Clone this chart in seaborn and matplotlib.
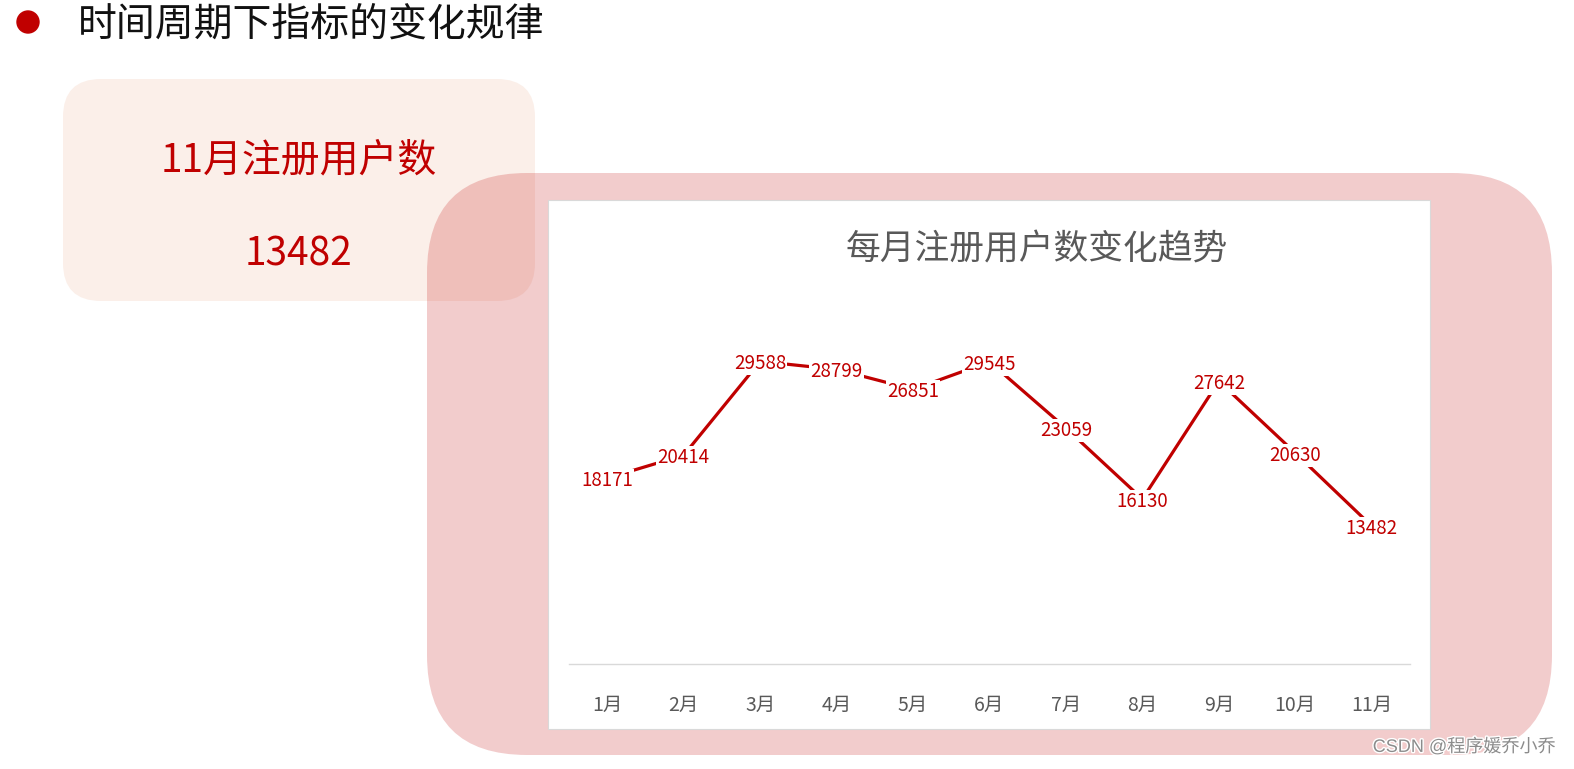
import matplotlib
matplotlib.use("Agg")
import matplotlib.pyplot as plt
import matplotlib.patheffects as pe
from matplotlib.patches import FancyBboxPatch, Circle
import seaborn as sns
import pandas as pd

# ---- data ----
months = ["1月", "2月", "3月", "4月", "5月", "6月", "7月", "8月", "9月", "10月", "11月"]
users = [18171, 20414, 29588, 28799, 26851, 29545, 23059, 16130, 27642, 20630, 13482]
page_title = "时间周期下指标的变化规律"
card_title = "11月注册用户数"
card_value = "13482"
chart_title = "每月注册用户数变化趋势"
watermark = "CSDN @程序媛乔小乔"

sns.set_theme(style="white")
plt.rcParams["font.family"] = ["Noto Sans CJK SC", "DejaVu Sans"]

RED = "#C00000"
GRAY = "#595959"

W, H = 1574, 769
fig = plt.figure(figsize=(W / 100, H / 100), dpi=100)
fig.patch.set_facecolor("white")

# background axes in pixel coordinates
bg = fig.add_axes([0, 0, 1, 1])
bg.set_xlim(0, W)
bg.set_ylim(H, 0)
bg.axis("off")

bg.add_patch(Circle((28, 22), 11, color=RED, zorder=2))
bg.text(78, 25, page_title, fontsize=28, color="#111111", va="center", ha="left")

# light card
bg.add_patch(FancyBboxPatch((63, 79), 472, 222,
                            boxstyle="round,pad=0,rounding_size=38",
                            facecolor="#FBEFE9", edgecolor="none", zorder=1))
bg.text(299, 160, card_title, fontsize=28, color=RED, ha="center", va="center", zorder=3)
bg.text(299, 254, card_value, fontsize=28, color=RED, ha="center", va="center", zorder=3)

# big pink rounded panel (semi-transparent over card)
bg.add_patch(FancyBboxPatch((427, 173), 1125, 582,
                            boxstyle="round,pad=0,rounding_size=100",
                            facecolor=RED, alpha=0.2, edgecolor="none", zorder=4))
# white chart panel
bg.add_patch(FancyBboxPatch((548, 200), 882, 529,
                            boxstyle="square,pad=0",
                            facecolor="white", edgecolor="#D9D9D9", linewidth=0.8, zorder=5))
bg.text(1037, 250, chart_title, fontsize=25, color=GRAY, ha="center", va="center", zorder=6)

bg.text(1555, 747, watermark, fontsize=13, color="#8C8C8C", ha="right", va="center",
        family=["Liberation Sans", "Noto Sans CJK SC"], zorder=7,
        path_effects=[pe.withStroke(linewidth=2, foreground="white")])

# chart axes
x0, x1, ytop, ybot = 569, 1410, 306, 664
ax = fig.add_axes([x0 / W, 1 - ybot / H, (x1 - x0) / W, (ybot - ytop) / H])
ax.set_facecolor("none")

df = pd.DataFrame({"month": months, "users": users})
sns.lineplot(data=df, x="month", y="users", sort=False, color=RED, linewidth=2.3, ax=ax, zorder=2)

for i, v in enumerate(users):
    ax.text(i, v, str(v), ha="center", va="center_baseline", fontsize=13.5, color=RED, zorder=5,
            bbox=dict(facecolor="white", edgecolor="none", pad=0.8))

ax.set_xlim(-0.5, len(months) - 0.5)
ax.set_ylim(0, 35000)
ax.set_xlabel("")
ax.set_ylabel("")
ax.set_yticks([])
ax.set_xticks(range(len(months)))
ax.set_xticklabels(months, fontsize=14, color=GRAY)
ax.tick_params(axis="x", length=0, pad=22)
for s in ["left", "top", "right"]:
    ax.spines[s].set_visible(False)
ax.spines["bottom"].set_color("#D9D9D9")
ax.spines["bottom"].set_linewidth(1)
ax.grid(False)

fig.savefig("out.png", dpi=100, facecolor="white")
